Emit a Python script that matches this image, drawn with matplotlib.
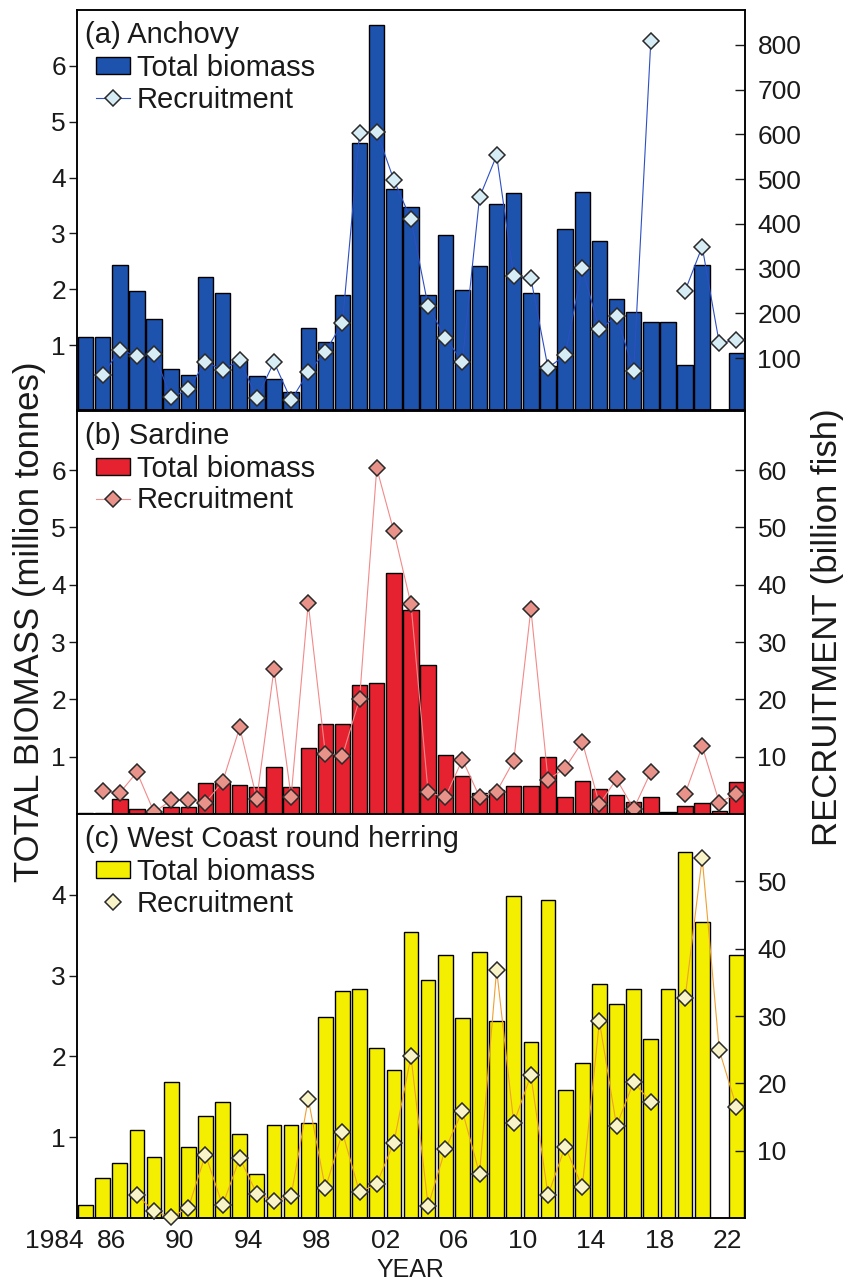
import numpy as np
import matplotlib
matplotlib.use("Agg")
import matplotlib.pyplot as plt
from matplotlib.patches import Patch
from matplotlib.lines import Line2D
from matplotlib.transforms import ScaledTranslation

plt.rcParams['font.family'] = ['Liberation Sans', 'DejaVu Sans']

nan = np.nan
years = np.arange(1984, 2023)

# total biomass (million tonnes), 1984-2022
anchovy_biomass = [1.14, 1.15, 2.44, 1.97, 1.47, 0.57, 0.47, 2.22, 1.94, 0.73,
                   0.44, 0.39, 0.16, 1.30, 1.06, 1.90, 4.62, 6.74, 3.80, 3.48,
                   1.90, 2.97, 1.99, 2.41, 3.53, 3.73, 1.93, 0.62, 3.08, 3.75,
                   2.87, 1.82, 1.60, 1.42, 1.42, 0.65, 2.44, nan, 0.86]
sardine_biomass = [0.02, 0.02, 0.27, 0.09, 0.0, 0.13, 0.13, 0.54, 0.54, 0.50,
                   0.47, 0.82, 0.47, 1.16, 1.57, 1.57, 2.25, 2.29, 4.20, 3.55,
                   2.60, 1.03, 0.66, 0.37, 0.42, 0.48, 0.48, 1.00, 0.30, 0.58,
                   0.43, 0.33, 0.21, 0.30, 0.04, 0.14, 0.20, 0.06, 0.55]
herring_biomass = [0.16, 0.50, 0.68, 1.09, 0.75, 1.68, 0.88, 1.26, 1.44, 1.04,
                   0.55, 1.15, 1.15, 1.18, 2.49, 2.81, 2.84, 2.10, 1.83, 3.54,
                   2.94, 3.25, 2.47, 3.29, 2.44, 3.99, 2.18, 3.94, 1.59, 1.92,
                   2.89, 2.65, 2.84, 2.21, 2.84, 4.53, 3.66, nan, 3.26]

# recruitment (billion fish), 1984-2022
anchovy_recruit = [nan, 62, 119, 104, 109, 12, 30, 92, 73, 96,
                   11, 91, 6, 68, 114, 179, 604, 606, 498, 410,
                   216, 146, 92, 459, 553, 283, 278, 78, 107, 301,
                   164, 194, 72, 808, nan, 250, 349, 133, 140]
sardine_recruit = [nan, 4.0, 3.7, 7.3, 0.3, 2.4, 2.5, 2.0, 5.6, 15.1,
                   2.6, 25.3, 3.0, 36.8, 10.5, 10.2, 20.1, 60.3, 49.3, 36.6,
                   3.8, 2.9, 9.5, 3.0, 3.9, 9.3, 35.8, 6.0, 8.0, 12.6,
                   1.7, 6.1, 0.9, 7.3, nan, 3.5, 11.8, 2.0, 3.5]
herring_recruit = [nan, nan, nan, 3.4, 1.0, 0.15, 1.5, 9.4, 1.9, 8.9,
                   3.6, 2.5, 3.3, 17.7, 4.4, 12.7, 3.8, 5.1, 11.2, 24.0,
                   1.8, 10.2, 15.9, 6.6, 36.9, 14.1, 21.2, 3.4, 10.6, 4.6,
                   29.2, 13.7, 20.2, 17.2, nan, 32.6, 53.5, 24.9, 16.5]

panel_titles = ['(a) Anchovy', '(b) Sardine', '(c) West Coast round herring']
year_ticks = [1984, 1986, 1990, 1994, 1998, 2002, 2006, 2010, 2014, 2018, 2022]
year_labels = ['1984', '86', '90', '94', '98', '02', '06', '10', '14', '18', '22']

panels = [
    dict(title=panel_titles[0], bio=anchovy_biomass, rec=anchovy_recruit,
         bar='#1d52ad', line='#2d4fc4', face='#d6edf6', leg_lw=0.8,
         ylim=(-0.16, 7.0), yticks=range(1, 7),
         rlim=(-16, 878), rticks=range(100, 900, 100),
         px=(10, 410), width=0.9),
    dict(title=panel_titles[1], bio=sardine_biomass, rec=sardine_recruit,
         bar='#e62230', line='#f28a8a', face='#e8928a', leg_lw=0.8,
         ylim=(0, 7.03), yticks=range(1, 7),
         rlim=(0, 70.3), rticks=range(10, 70, 10),
         px=(411, 814), width=0.9),
    dict(title=panel_titles[2], bio=herring_biomass, rec=herring_recruit,
         bar='#f4ee00', line='#f0a030', face='#f8f4c8', leg_lw=0,
         ylim=(0, 5.0), yticks=range(1, 5),
         rlim=(0, 60), rticks=range(10, 60, 10),
         px=(814, 1218), width=0.86),
]

W, H = 850, 1284
fig = plt.figure(figsize=(W / 100, H / 100), dpi=100)
x_left, x_right = 77, 745
xc = years + 0.5
ms = 8.5

for i, p in enumerate(panels):
    top, bot = p['px']
    ax = fig.add_axes([x_left / W, 1 - bot / H, (x_right - x_left) / W, (bot - top) / H])
    ax2 = ax.twinx()
    lo = p['ylim'][0]
    bio = np.array(p['bio'], dtype=float)
    ax.bar(xc, bio - lo, bottom=lo, width=p['width'], color=p['bar'],
           edgecolor='black', linewidth=1.0, zorder=2)
    ax2.plot(xc, p['rec'], color=p['line'], lw=0.8, marker='D', ms=ms,
             mfc=p['face'], mec='#2a2a2a', mew=1.1, clip_on=False, zorder=3)

    ax.set_xlim(1984, 2023)
    ax.set_ylim(*p['ylim'])
    ax2.set_ylim(*p['rlim'])
    ax.set_yticks(list(p['yticks']))
    ax2.set_yticks(list(p['rticks']))
    ax.tick_params(axis='y', direction='out', length=6, width=1, labelsize=19,
                   pad=2, colors='#1a1a1a')
    ax2.tick_params(axis='y', direction='in', length=7, width=1, labelsize=19,
                    pad=9, colors='#1a1a1a')
    for a in (ax, ax2):
        for s in a.spines.values():
            s.set_linewidth(1.1)

    if i < 2:
        ax.tick_params(axis='x', length=0, labelbottom=False)
    else:
        ax.set_xticks(year_ticks)
        ax.set_xticklabels(year_labels)
        ax.tick_params(axis='x', length=0, labelsize=19, pad=8, colors='#1a1a1a')
        first = ax.get_xticklabels()[0]
        first.set_ha('right')
        first.set_transform(first.get_transform() +
                            ScaledTranslation(7 / 100, 0, fig.dpi_scale_trans))

    hgt = bot - top
    ax2.text(8 / 668, 1 - 25 / hgt, p['title'], transform=ax2.transAxes,
             fontsize=21, va='center', ha='left', color='#1a1a1a')
    handles = [Patch(facecolor=p['bar'], edgecolor='black', linewidth=1.0),
               Line2D([], [], color=p['line'], lw=p['leg_lw'], marker='D', ms=ms,
                      mfc=p['face'], mec='#2a2a2a', mew=1.1)]
    leg = ax2.legend(handles, ['Total biomass', 'Recruitment'], loc='upper left',
                     bbox_to_anchor=(19 / 668, 1 - 44 / hgt), frameon=False,
                     fontsize=21, borderpad=0, borderaxespad=0, handlelength=1.15,
                     handleheight=0.55, handletextpad=0.25, labelspacing=0.12)
    for t in leg.get_texts():
        t.set_color('#1a1a1a')

fig.text(30 / W, 1 - 622 / H, 'TOTAL BIOMASS (million tonnes)', rotation=90,
         ha='center', va='center', fontsize=25, color='#1a1a1a')
fig.text(828 / W, 1 - 627 / H, 'RECRUITMENT (billion fish)', rotation=90,
         ha='center', va='center', fontsize=25, color='#1a1a1a')
fig.text(410 / W, 1 - 1270 / H, 'YEAR', ha='center', va='center',
         fontsize=18, color='#1a1a1a')

fig.savefig('out.png', dpi=100)
